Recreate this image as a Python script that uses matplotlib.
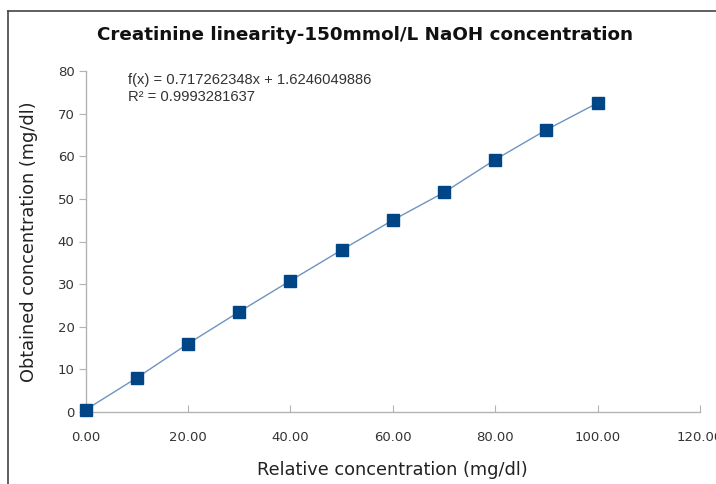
import matplotlib
matplotlib.use("Agg")
import matplotlib.pyplot as plt
from matplotlib.lines import Line2D

x_vals = [0, 10, 20, 30, 40, 50, 60, 70, 80, 90, 100]
y_vals = [0.5, 8.0, 16.0, 23.5, 30.8, 38.0, 45.0, 51.5, 59.2, 66.2, 72.5]
x_ticks = [0, 20, 40, 60, 80, 100, 120]
y_ticks = [0, 10, 20, 30, 40, 50, 60, 70, 80]
title = "Creatinine linearity-150mmol/L NaOH concentration"
eq_lines = ["f(x) = 0.717262348x + 1.6246049886", "R² = 0.9993281637"]

fig = plt.figure(figsize=(7.16, 4.84), dpi=100)
ax = fig.add_axes([85.5/716, 72/484, (700-85.5)/716, (412-71)/484])

ax.plot(x_vals, y_vals, color="#6f93c0", lw=1.0, zorder=2, clip_on=False)
ax.plot(x_vals, y_vals, ls="none", marker="s", ms=8, color="#004586", zorder=3, clip_on=False)

ax.set_xlim(0, 120)
ax.set_ylim(0, 80)
ax.set_xticks(x_ticks)
ax.set_xticklabels([f"{v:.2f}" for v in x_ticks])
ax.set_yticks(y_ticks)
for s in ["top", "right"]:
    ax.spines[s].set_visible(False)
for s in ["left", "bottom"]:
    ax.spines[s].set_color("#b3b3b3")
    ax.spines[s].set_linewidth(1.0)
ax.tick_params(axis="x", direction="in", length=5, color="#b3b3b3", labelsize=9.5, labelcolor="#333333", pad=14)
ax.tick_params(axis="y", direction="out", length=5, color="#b3b3b3", labelsize=9.5, labelcolor="#333333", pad=3)

ax.set_xlabel("Relative concentration (mg/dl)", fontsize=12.8, color="#222222", labelpad=12)
ax.set_ylabel("Obtained concentration (mg/dl)", fontsize=12.8, color="#222222", labelpad=14)

fig.text(365/716, 1 - 35/484, title, ha="center", va="center", fontsize=13.2, fontweight="bold", color="#111111")
fig.text(128/716, 1 - 80/484, eq_lines[0], ha="left", va="center", fontsize=10.6, family="Liberation Sans", color="#333333")
fig.text(128/716, 1 - 97/484, eq_lines[1], ha="left", va="center", fontsize=10.6, family="Liberation Sans", color="#333333")

# page frame (left and top edges)
fig.add_artist(Line2D([8/716, 8/716], [0, 1 - 11/484], transform=fig.transFigure, color="#444444", lw=1.2))
fig.add_artist(Line2D([8/716, 1], [1 - 11/484, 1 - 11/484], transform=fig.transFigure, color="#444444", lw=1.2))

fig.savefig("out.png", dpi=100)
